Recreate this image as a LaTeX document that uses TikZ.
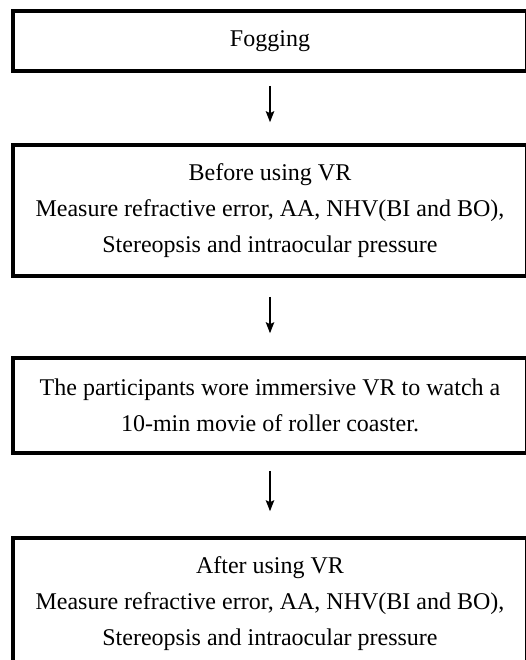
\documentclass[tikz,border=0pt]{standalone}
\usepackage{fontspec}
\setmainfont{Liberation Serif}
\usetikzlibrary{arrows.meta}
\tikzset{
  stagebox/.style={draw=black, line width=3.6pt, rectangle, inner sep=0pt,
    minimum width=514.4pt, align=center,
    font=\fontsize{24}{36}\selectfont},
  flowarrow/.style={-{Stealth[length=11pt,width=8.5pt,inset=2pt]}, line width=1.3pt, draw=black}
}
\begin{document}
\begin{tikzpicture}[x=1pt,y=-1pt]
\useasboundingbox (0,0) rectangle (525,660);
\node[stagebox, minimum height=60pt] (fog) at (270,41) {Fogging};
\node[stagebox, minimum height=131pt] (before) at (270,210.5)
  {Before using VR\\Measure refractive error, AA, NHV(BI and BO),\\Stereopsis and intraocular pressure};
\node[stagebox, minimum height=95pt] (watch) at (270,405.5)
  {The participants wore immersive VR to watch a\\10-min movie of roller coaster.};
\node[stagebox, minimum height=131pt] (after) at (270,603.5)
  {After using VR\\Measure refractive error, AA, NHV(BI and BO),\\Stereopsis and intraocular pressure};
\draw[flowarrow, shorten <=13pt, shorten >=21pt] (fog.south) -- (before.north);
\draw[flowarrow, shorten <=19pt, shorten >=23pt] (before.south) -- (watch.north);
\draw[flowarrow, shorten <=16pt, shorten >=25pt] (watch.south) -- (after.north);
\end{tikzpicture}
\end{document}
